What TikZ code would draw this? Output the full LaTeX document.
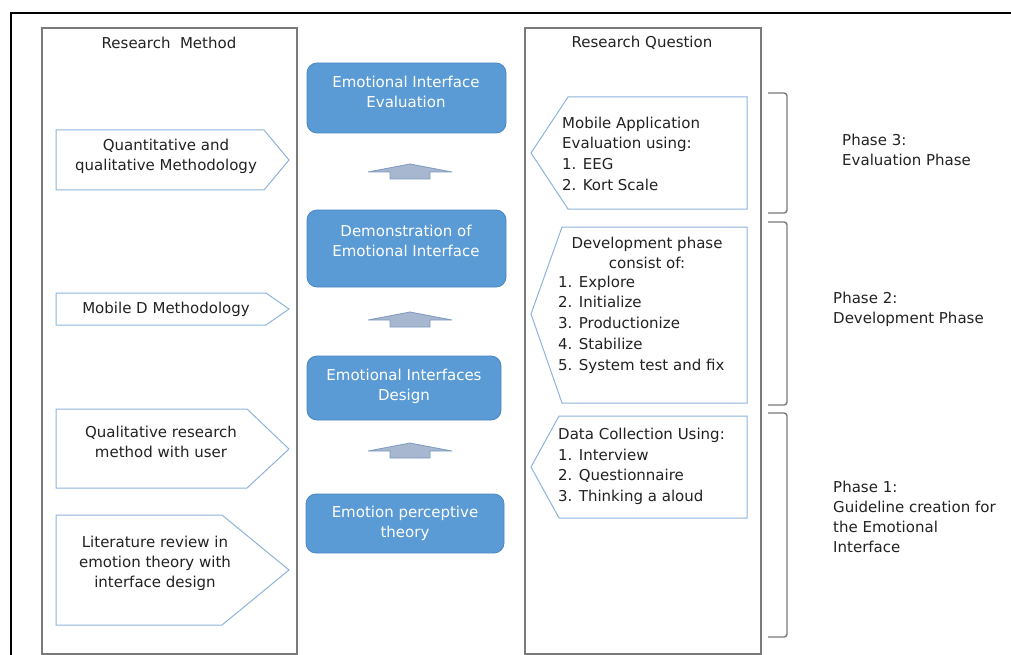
\documentclass[tikz,border=0pt]{standalone}
\usepackage{fontspec}
\setmainfont{DejaVu Sans}
\definecolor{txtc}{HTML}{222222}
\definecolor{bluefill}{HTML}{5B9BD5}
\definecolor{blueline}{HTML}{4A86C2}
\definecolor{pentline}{HTML}{8FB3DC}
\definecolor{arrfill}{HTML}{A7B7CF}
\definecolor{arrline}{HTML}{7D9AC0}
\definecolor{colline}{HTML}{7A7A7A}
\begin{document}
\begin{tikzpicture}[x=1pt,y=-1pt,
  txt/.style={font=\fontsize{15}{20}\selectfont, text=txtc, inner sep=0pt},
  ltxt/.style={font=\fontsize{15}{20.7}\selectfont, text=txtc, inner sep=0pt, align=left, anchor=west},
  wtxt/.style={font=\fontsize{15}{20}\selectfont, text=white, inner sep=0pt, align=center},
  column/.style={draw=colline, line width=1.3pt},
  pent/.style={draw=pentline, line width=1pt, fill=white},
  bluebox/.style={draw=blueline, fill=bluefill, line width=0.8pt, rounded corners=10pt, inner sep=0pt},
  blockarrow/.style={draw=arrline, fill=arrfill, line width=0.8pt},
  bracket/.style={draw=colline, line width=1.4pt, rounded corners=3pt}]
\useasboundingbox (0,0) rectangle (1011,655);
% outer frame
\draw[line width=2.8pt, black] (1011,13) -- (11,13) -- (11,656);
% columns
\draw[column] (42,656) -- (42,28) -- (297,28) -- (297,656);
\draw[column] (525,656) -- (525,28) -- (761,28) -- (761,656);
\draw[column] (42,654) -- (297,654);
\draw[column] (525,654) -- (761,654);
\node[txt] (hm) at (169,43) {Research\ \ Method};
\node[txt] (hq) at (642,43) {Research Question};
% left pentagons
\draw[pent] (56,130) -- (264,130) -- (289,160) -- (264,190) -- (56,190) -- cycle;
\draw[pent] (56,293) -- (266,293) -- (289,309) -- (266,325) -- (56,325) -- cycle;
\draw[pent] (56,409) -- (247,409) -- (289,449) -- (247,488) -- (56,488) -- cycle;
\draw[pent] (56,515) -- (222,515) -- (289,570) -- (222,625) -- (56,625) -- cycle;
\node[txt, align=center] (l1) at (166,156) {Quantitative and\\qualitative Methodology};
\node[txt, align=center] (l2) at (166,309) {Mobile D Methodology};
\node[txt, align=center] (l3) at (161,442) {Qualitative research\\method with user};
\node[txt, align=center] (l4) at (155,563) {Literature review in\\emotion theory with\\interface design};
% middle blue boxes
\node[bluebox, minimum width=199pt, minimum height=70pt] (b1) at (406.5,98) {};
\node[bluebox, minimum width=199pt, minimum height=77pt] (b2) at (406.5,248.5) {};
\node[bluebox, minimum width=194pt, minimum height=64pt] (b3) at (404,388) {};
\node[bluebox, minimum width=198pt, minimum height=59pt] (b4) at (405,523.5) {};
\node[wtxt] (t1) at (406,92) {Emotional Interface\\Evaluation};
\node[wtxt] (t2) at (406,241) {Demonstration of\\Emotional Interface};
\node[wtxt] (t3) at (404,386) {Emotional Interfaces\\Design};
\node[wtxt] (t4) at (405,523) {Emotion perceptive\\theory};
% block arrows
\foreach \ay in {164,312,443} {
  \draw[blockarrow] (368,\ay+8) -- (410,\ay) -- (452,\ay+8) -- (430,\ay+8) -- (430,\ay+15) -- (390,\ay+15) -- (390,\ay+8) -- cycle;
}
% right pentagons
\draw[pent] (747,97) -- (568,97) -- (531,153) -- (568,209) -- (747,209) -- cycle;
\draw[pent] (747,227) -- (562,227) -- (531,314) -- (562,403) -- (747,403) -- cycle;
\draw[pent] (747,416) -- (559,416) -- (531,467) -- (559,518) -- (747,518) -- cycle;
\node[ltxt] (r1) at (562,153.5) {Mobile Application\\Evaluation using:\\1. EEG\\2. Kort Scale};
\node[txt, align=center] (r2h) at (647,253) {Development phase\\consist of:};
\node[ltxt] (r2) at (558,324.5) {1. Explore\\2. Initialize\\3. Productionize\\4. Stabilize\\5. System test and fix};
\node[ltxt] (r3) at (558,466.5) {Data Collection Using:\\1. Interview\\2. Questionnaire\\3. Thinking a aloud};
% brackets
\draw[bracket] (768,93) -- (787,93) -- (787,213) -- (768,213);
\draw[bracket] (768,222) -- (787,222) -- (787,405) -- (768,405);
\draw[bracket] (768,413) -- (787,413) -- (787,637) -- (768,637);
\node[txt, align=left, anchor=west] (p3) at (842,150) {Phase 3:\\Evaluation Phase};
\node[txt, align=left, anchor=west] (p2) at (833,309) {Phase 2:\\Development Phase};
\node[txt, align=left, anchor=west] (p1) at (833,517) {Phase 1:\\Guideline creation for\\the Emotional\\Interface};
\end{tikzpicture}
\end{document}
